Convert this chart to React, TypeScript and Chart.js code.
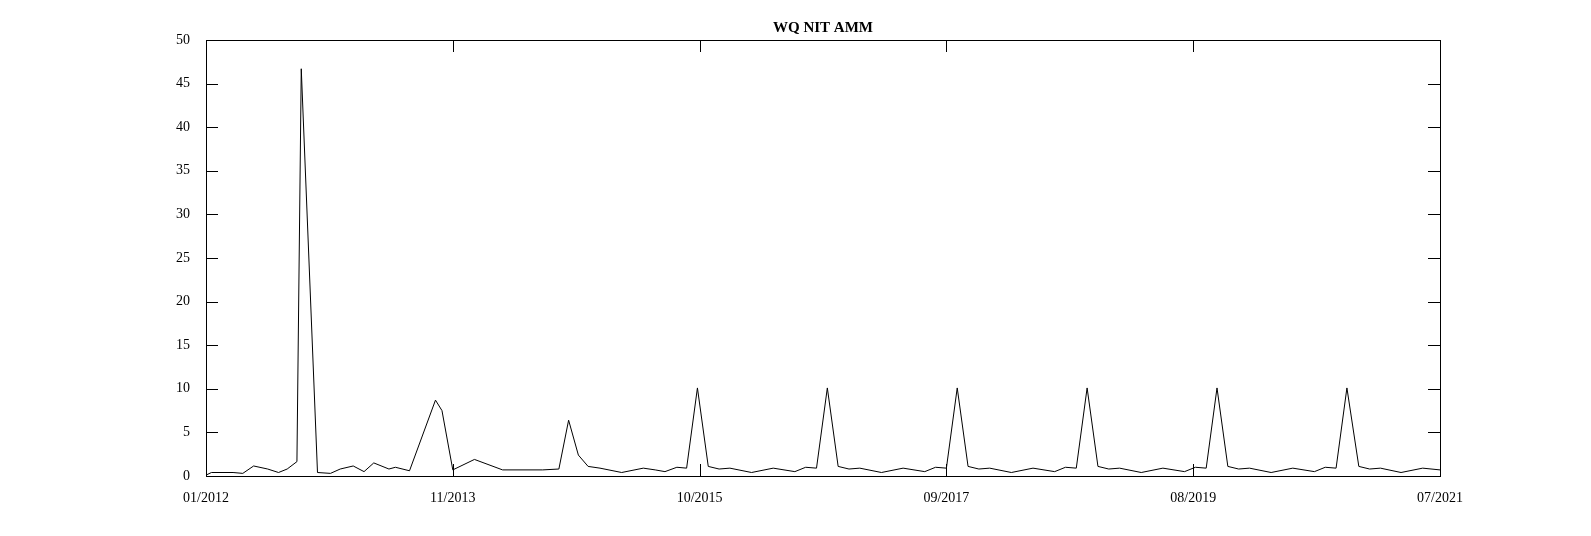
import React, { useEffect, useRef } from "react";
import { Chart, registerables, ChartConfiguration, Plugin } from "chart.js";

Chart.register(...registerables);

// months since 01/2012
const months: number[] = [
  0, 0.5, 2.5, 3.4, 4.4, 5.7, 6.7, 7.5, 8.4, 8.8, 10.3, 11.5, 12.4, 13.6, 14.6, 15.5, 16.9, 17.5, 18.8,
  21.2, 21.8, 22.8, 24.8, 27.4, 31.1, 32.6, 33.5, 34.4, 35.3, 36.4, 38.4, 40.4, 41.5, 42.4, 43.5, 44.4,
  45.4, 46.4, 47.4, 48.4, 50.4, 52.4, 54.4, 55.4, 56.4,
  57.4, 58.4, 59.4, 60.4, 62.4, 64.4, 66.4, 67.4, 68.4,
  69.4, 70.4, 71.4, 72.4, 74.4, 76.4, 78.4, 79.4, 80.4,
  81.4, 82.4, 83.4, 84.4, 86.4, 88.4, 90.4, 91.4, 92.4,
  93.4, 94.4, 95.4, 96.4, 98.4, 100.4, 102.4, 103.4, 104.4,
  105.4, 106.5, 107.5, 108.5, 110.4, 112.4, 114,
];
const values: number[] = [
  0.1, 0.4, 0.4, 0.3, 1.15, 0.8, 0.4, 0.8, 1.65, 46.7, 0.4, 0.3, 0.8, 1.15, 0.5, 1.5, 0.8, 1.0, 0.6,
  8.7, 7.5, 0.7, 1.9, 0.7, 0.7, 0.8, 6.4, 2.4, 1.1, 0.9, 0.4, 0.9, 0.7, 0.5, 1.0, 0.9,
  10.1, 1.1, 0.8, 0.9, 0.4, 0.9, 0.5, 1.0, 0.9,
  10.1, 1.1, 0.8, 0.9, 0.4, 0.9, 0.5, 1.0, 0.9,
  10.1, 1.1, 0.8, 0.9, 0.4, 0.9, 0.5, 1.0, 0.9,
  10.1, 1.1, 0.8, 0.9, 0.4, 0.9, 0.5, 1.0, 0.9,
  10.1, 1.1, 0.8, 0.9, 0.4, 0.9, 0.5, 1.0, 0.9,
  10.1, 1.1, 0.8, 0.9, 0.4, 0.9, 0.7,
];
const xTickLabels: string[] = ["01/2012", "11/2013", "10/2015", "09/2017", "08/2019", "07/2021"];
const xTickPositions: number[] = [0, 22.8, 45.6, 68.4, 91.2, 114];
const title = "WQ NIT AMM";

const FONT = "'Liberation Serif', 'Times New Roman', serif";

const framePlugin: Plugin = {
  id: "frame",
  afterDraw(chart) {
    const { ctx, chartArea: a, scales } = chart;
    ctx.save();
    ctx.strokeStyle = "#000";
    ctx.lineWidth = 1;
    ctx.strokeRect(a.left + 0.5, a.top + 0.5, a.right - a.left, a.bottom - a.top);
    const t = 12;
    ctx.beginPath();
    for (let v = 0; v <= 50; v += 5) {
      const y = Math.round(scales.y.getPixelForValue(v)) + 0.5;
      ctx.moveTo(a.left, y); ctx.lineTo(a.left + t, y);
      ctx.moveTo(a.right, y); ctx.lineTo(a.right - t, y);
    }
    xTickPositions.forEach((m) => {
      const x = Math.round(scales.x.getPixelForValue(m)) + 0.5;
      ctx.moveTo(x, a.bottom); ctx.lineTo(x, a.bottom - t);
      ctx.moveTo(x, a.top); ctx.lineTo(x, a.top + t);
    });
    ctx.stroke();
    ctx.fillStyle = "#000";
    ctx.font = `bold 15px ${FONT}`;
    ctx.textAlign = "center";
    ctx.textBaseline = "middle";
    ctx.fillText(title, (a.left + a.right) / 2, 28);
    ctx.restore();
  },
};

const App: React.FC = () => {
  const canvasRef = useRef<HTMLCanvasElement>(null);
  const chartRef = useRef<Chart | null>(null);

  useEffect(() => {
    if (!canvasRef.current) return;
    if (chartRef.current) chartRef.current.destroy();
    const config: ChartConfiguration = {
      type: "line",
      data: {
        datasets: [
          {
            data: months.map((m, i) => ({ x: m, y: values[i] })),
            borderColor: "#000",
            borderWidth: 1,
            pointRadius: 0,
            tension: 0,
          },
        ],
      },
      options: {
        animation: false,
        responsive: false,
        layout: { padding: { left: 0, right: 151, top: 40, bottom: 0 } },
        plugins: { legend: { display: false }, tooltip: { enabled: false } },
        scales: {
          x: {
            type: "linear",
            min: 0,
            max: 114,
            grid: { display: false },
            border: { display: false },
            afterBuildTicks: (s: any) => {
              s.ticks = xTickPositions.map((v) => ({ value: v }));
            },
            afterFit: (s: any) => {
              s.height = 60;
            },
            ticks: {
              autoSkip: false,
              maxRotation: 0,
              padding: 6,
              color: "#000",
              font: { family: FONT, size: 14 },
              callback: (v: any) => xTickLabels[xTickPositions.indexOf(Number(v))] ?? "",
            },
          },
          y: {
            min: 0,
            max: 50,
            grid: { display: false },
            border: { display: false },
            afterFit: (s: any) => {
              s.width = 206;
            },
            ticks: {
              stepSize: 5,
              padding: 8,
              color: "#000",
              font: { family: FONT, size: 14 },
            },
          },
        },
      },
      plugins: [framePlugin],
    };
    chartRef.current = new Chart(canvasRef.current, config);
    return () => {
      if (chartRef.current) chartRef.current.destroy();
      chartRef.current = null;
    };
  }, []);

  return (
    <div style={{ position: "absolute", left: 0, top: 0, width: 1591, height: 536, background: "#fff" }}>
      <canvas ref={canvasRef} width={1591} height={536} />
    </div>
  );
};

export default App;
